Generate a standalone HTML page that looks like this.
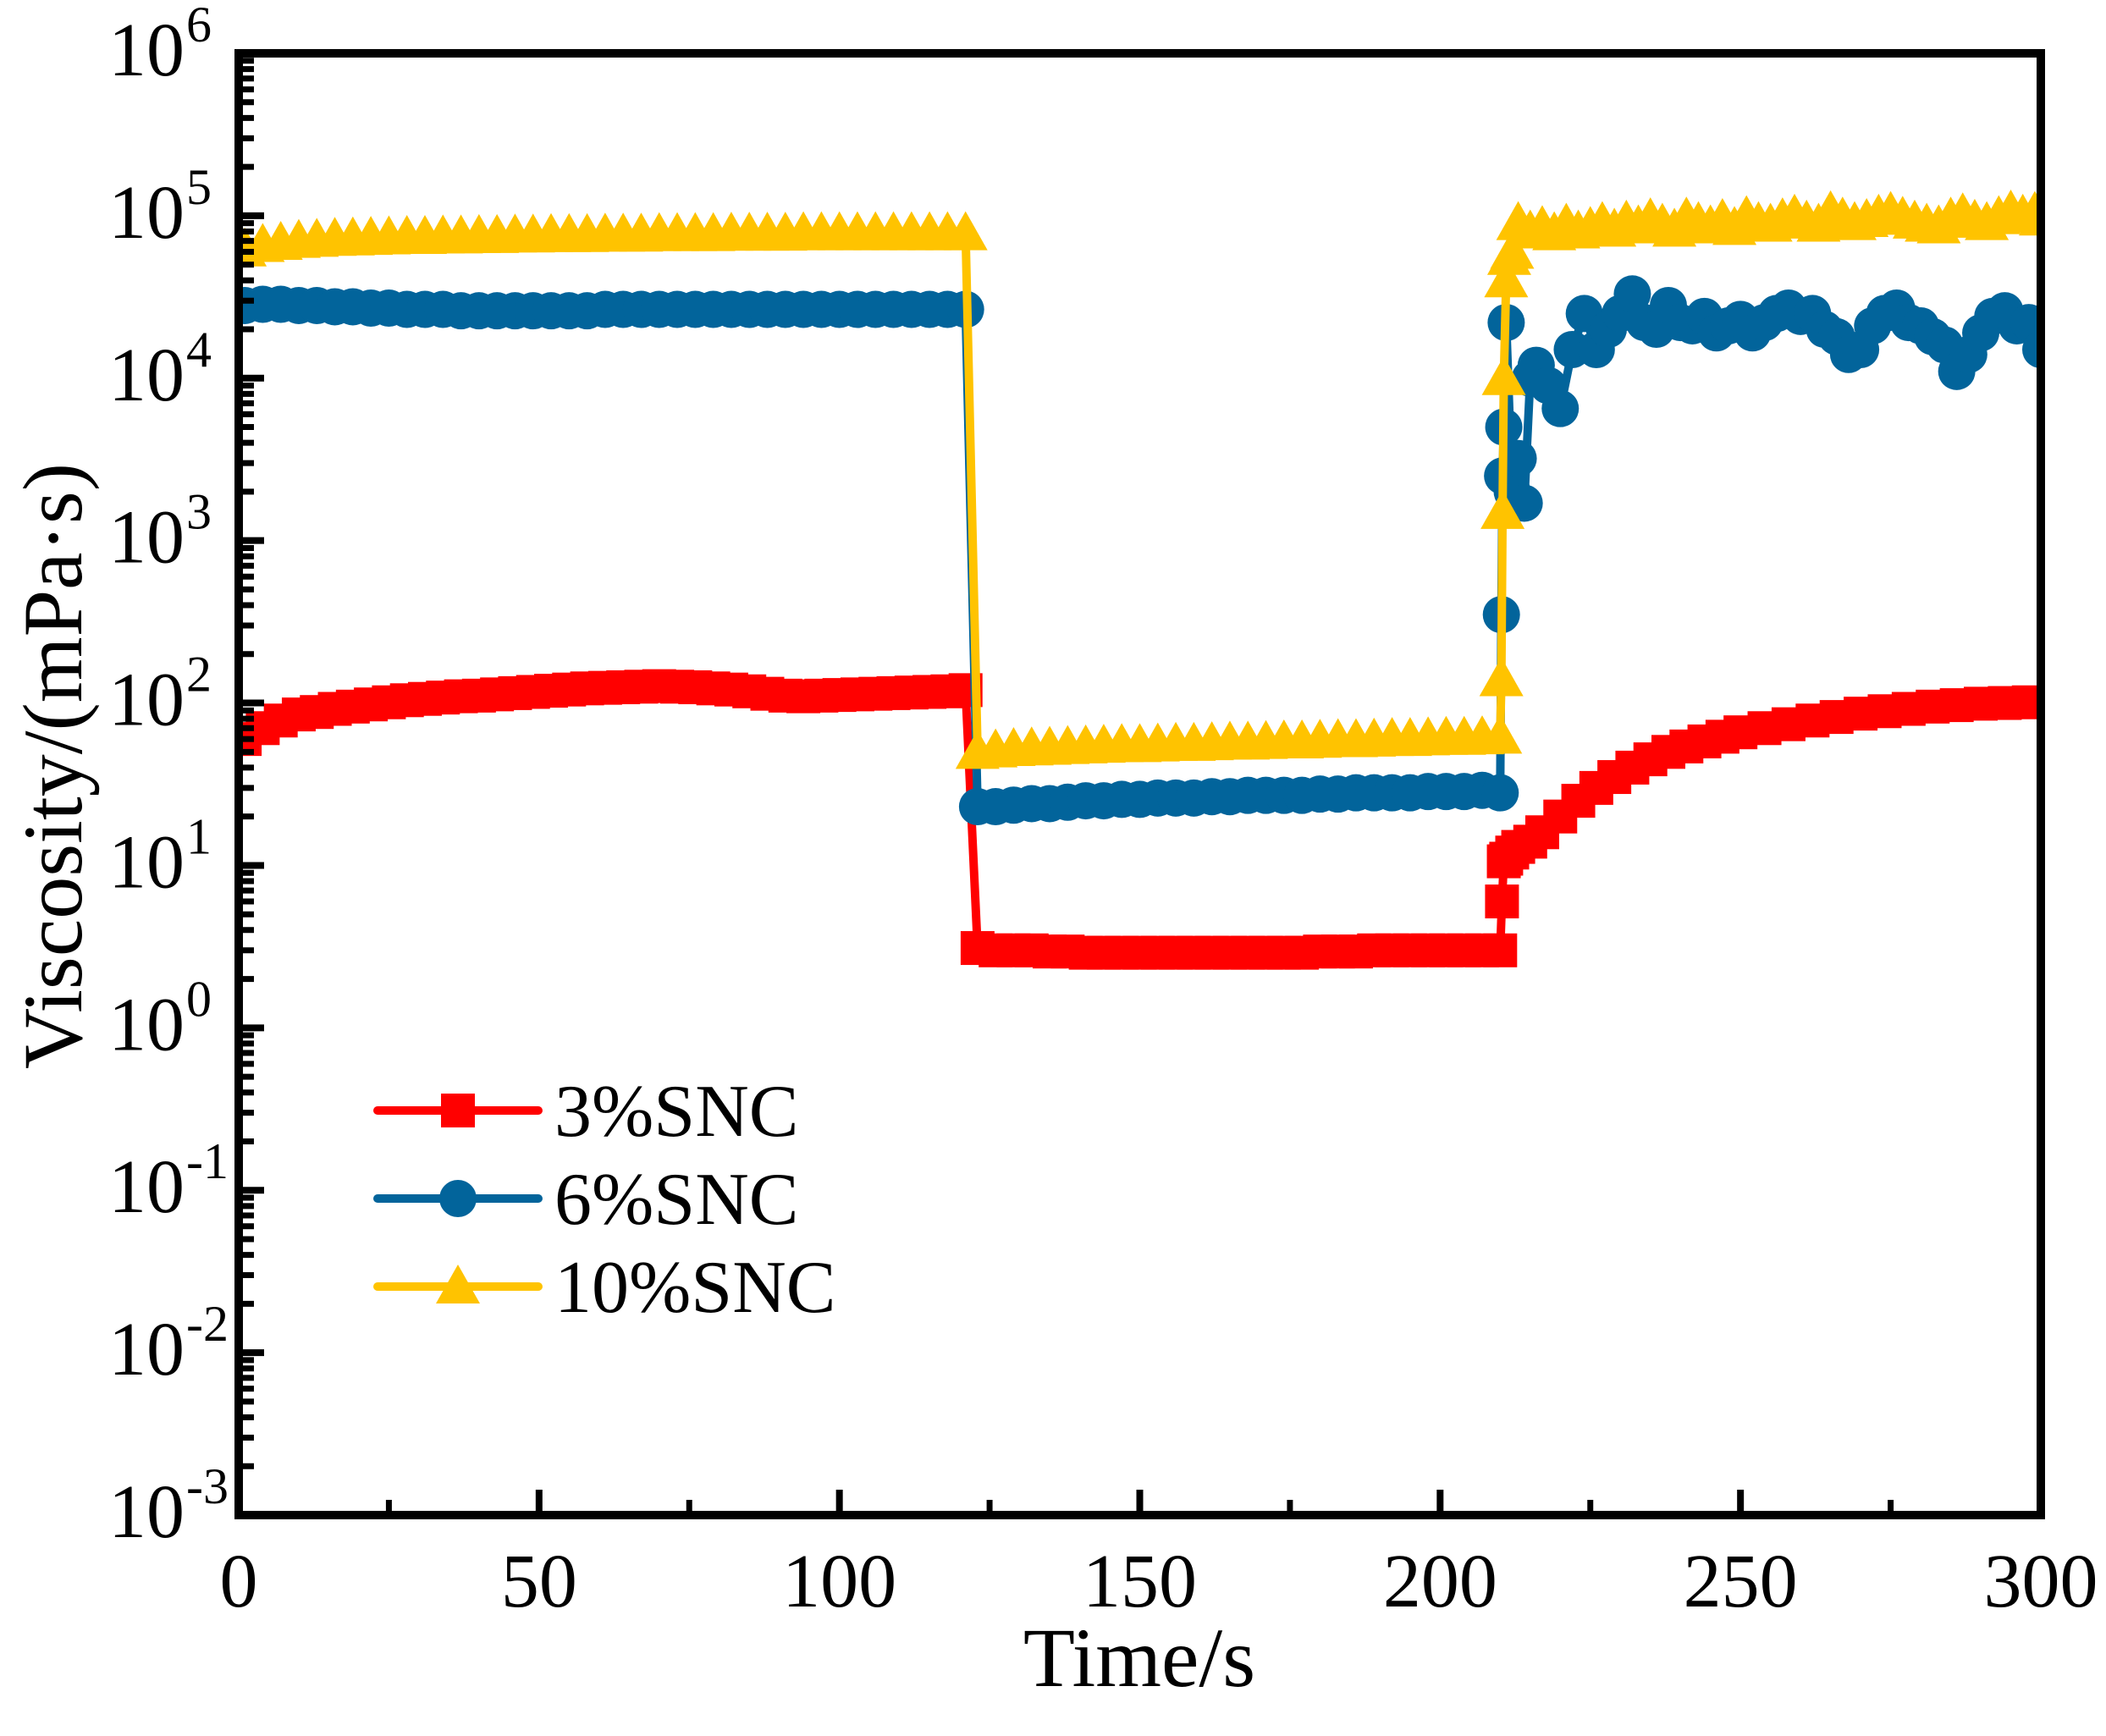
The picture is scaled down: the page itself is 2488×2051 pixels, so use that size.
<!DOCTYPE html>
<html>
<head>
<meta charset="utf-8">
<style>
html,body{margin:0;padding:0;background:#fff;}
svg{display:block;}
text{font-family:"Liberation Serif","DejaVu Serif",serif;fill:#000;}
</style>
</head>
<body>
<svg id="chart" xmlns="http://www.w3.org/2000/svg" width="2488" height="2051" viewBox="0 0 2488 2051">
<rect x="0" y="0" width="2488" height="2051" fill="#fff"/>
<g id="series"></g>
<g id="axes"></g>
<text x="1346" y="1992" font-size="100" text-anchor="middle">Time/s</text>
<text x="0" y="0" font-size="100" text-anchor="middle" transform="translate(96,905) rotate(-90)">Viscosity/(mPa·s)</text>
<g id="legend"></g>
</svg>
<script>
// ---- data ----
const xTicks = [0, 50, 100, 150, 200, 250, 300];
const yExps = [-3, -2, -1, 0, 1, 2, 3, 4, 5, 6];
const seriesNames = ["3%SNC", "6%SNC", "10%SNC"];

const t3 = [1,4,7,10,13,16,19,22,25,28,31,34,37,40,43,46,49,52,55,58,61,64,67,70,73,76,79,82,85,88,91,94,97,100,103,106,109,112,115,118,121,
 123,126,129,132,135,138,141,144,147,150,153,156,159,162,165,168,171,174,177,180,183,186,189,192,195,198,201,204,207,210,
 210.3,210.6,211,212,213,215,217,220,223,226,229,232,235,238,241,244,247,250,254,258,262,266,270,274,278,282,286,290,294,298,300];
const v3 = [60,70,78,85,88,92,95,98,101,104,106,108,110,111,113,115,117,119,121,123,124,125,126,127,126,125,123,121,118,114,111,110,111,112,113,114,115,116,117,118,120,
 3.1,3.0,3.0,3.0,2.95,2.95,2.9,2.9,2.9,2.9,2.9,2.9,2.9,2.9,2.9,2.9,2.9,2.9,2.9,2.95,2.95,2.95,3.0,3.0,3.0,3.0,3.0,3.0,3.0,3.0,
 6,10.6,11,12,13,14,16,20,25,30,35,40,45,50,54,58,62,66,70,74,78,82,86,89,92,95,97,99,100,101];

const t6 = [1,4,7,10,13,16,19,22,25,28,31,34,37,40,43,46,49,52,55,58,61,64,67,70,73,76,79,82,85,88,91,94,97,100,103,106,109,112,115,118,121,
 123,126,129,132,135,138,141,144,147,150,153,156,159,162,165,168,171,174,177,180,183,186,189,192,195,198,201,204,207,210,
 210.2,210.4,210.6,211,212,213,214,215,216,218,220,222,224,226,228,230,232,234,236,238,240,242,244,246,248,250,252,254,256,258,260,262,264,266,268,270,272,274,276,278,280,282,284,286,288,290,292,294,296,298,300];
const v6 = [28000,28500,28500,28000,28000,27500,27500,27000,27000,26500,26500,26500,26000,26000,26000,26000,26000,26000,26000,26000,26500,26500,26500,26500,26500,26500,26500,26500,26500,26500,26500,26500,26500,26500,26500,26500,26500,26500,26500,26500,26500,
 23,23,23.5,24,24,24.5,25,25,25.5,25.5,26,26,26,26.5,26.5,27,27,27,27,27.5,27.5,28,28,28,28,28.5,28.5,28.5,29,28,
 350,2500,5000,22000,2000,3200,1700,10000,12000,9000,6500,15000,25000,15000,20000,25000,33000,22000,20000,28000,22000,21000,24000,19000,21000,23000,19000,22000,25000,27000,24000,25000,20000,18000,14000,15000,21000,25000,27000,22000,21000,18000,16000,11000,14000,19000,24000,26000,21000,22000,15000];

const t10 = [1,4,7,10,13,16,19,22,25,28,31,34,37,40,43,46,49,52,55,58,61,64,67,70,73,76,79,82,85,88,91,94,97,100,103,106,109,112,115,118,121,
 123,126,129,132,135,138,141,144,147,150,153,156,159,162,165,168,171,174,177,180,183,186,189,192,195,198,201,204,207,210,
 210.2,210.4,210.6,211,211.5,212,213,215,217,219,221,223,225,227,229,231,233,235,237,239,241,243,245,247,249,251,253,255,257,259,261,263,265,267,269,271,273,275,277,279,281,283,285,287,289,291,293,295,297,299,300];
const v10 = [62000,66000,68000,70000,71000,72000,72500,73000,73500,74000,74000,74500,74500,75000,75000,75500,75500,76000,76000,76000,76500,76500,76500,77000,77000,77000,77000,77500,77500,77500,77500,78000,78000,78000,78000,78000,78000,78000,78000,78000,78000,
 50,51,52,52.5,53,53.5,54,54.5,55,55,55.5,56,56,56.5,57,57,57.5,58,58,58.5,59,59,59.5,60,60,60.5,61,61,61.5,62,
 140,1500,10000,40000,55000,60000,90000,80000,85000,78000,88000,80000,84000,90000,82000,92000,86000,95000,88000,82000,96000,90000,86000,94000,84000,98000,90000,88000,95000,100000,92000,88000,105000,96000,90000,94000,100000,104000,97000,92000,88000,86000,96000,102000,93000,90000,98000,106000,100000,104000,96000];

// ---- layout ----
const L = 282, R = 2411, T = 63, B = 1790;
const xmin = 0, xmax = 300, lmin = -3, lmax = 6;
function xs(t){ return L + (t - xmin) / (xmax - xmin) * (R - L); }
function ys(v){ return B - (Math.log10(v) - lmin) / (lmax - lmin) * (B - T); }

const NS = "http://www.w3.org/2000/svg";
function mk(tag, attrs, parent){
  const e = document.createElementNS(NS, tag);
  for (const k in attrs) e.setAttribute(k, attrs[k]);
  parent.appendChild(e);
  return e;
}
const axes = document.getElementById('axes');
const seriesG = document.getElementById('series');
const legend = document.getElementById('legend');

const frame = mk('rect', {x:L, y:T, width:R-L, height:B-T, fill:'none', stroke:'#000', 'stroke-width':10}, axes);



for (let i = 0; i < xTicks.length; i++) {
  const x = xs(xTicks[i]);
  const tk = mk('line', {x1:x, y1:B, x2:x, y2:B-30, stroke:'#000', 'stroke-width':8}, axes);
  
  
  const lb = mk('text', {x:x, y:1898, 'font-size':90, 'text-anchor':'middle'}, axes);
  lb.textContent = String(xTicks[i]);
  
  
  if (i < xTicks.length - 1) {
    const xm = xs((xTicks[i] + xTicks[i+1]) / 2);
    const mt = mk('line', {x1:xm, y1:B, x2:xm, y2:B-18, stroke:'#000', 'stroke-width':7}, axes);
    
    
  }
}

for (let i = 0; i < yExps.length; i++) {
  const e = yExps[i];
  const y = ys(Math.pow(10, e));
  const tk = mk('line', {x1:L, y1:y, x2:L+30, y2:y, stroke:'#000', 'stroke-width':8}, axes);
  
  
  const lb = mk('text', {x:218, y:y+26, 'font-size':90, 'text-anchor':'end'}, axes);
  lb.textContent = '10';
  
  
  const sup = mk('text', {x:220, y:y-14, 'font-size':60, 'text-anchor':'start'}, axes);
  sup.textContent = String(e);
  
  
  if (e < lmax) {
    for (let m = 2; m <= 9; m++) {
      const ym = ys(m * Math.pow(10, e));
      const mt = mk('line', {x1:L, y1:ym, x2:L+18, y2:ym, stroke:'#000', 'stroke-width':7}, axes);
      
      
    }
  }
}

function marker(kind, cx, cy, color, parent){
  let el;
  if (kind === 'square') {
    el = mk('rect', {x:cx-20, y:cy-20, width:40, height:40, fill:color}, parent);
  } else if (kind === 'circle') {
    el = mk('circle', {cx:cx, cy:cy, r:22, fill:color}, parent);
  } else {
    el = mk('polygon', {points:(cx)+','+(cy-26)+' '+(cx-26)+','+(cy+20)+' '+(cx+26)+','+(cy+20), fill:color}, parent);
  }
  return el;
}

const specs = [
  {t:t3, v:v3, color:'#FF0000', kind:'square', name:'series-3pct-snc'},
  {t:t6, v:v6, color:'#02649B', kind:'circle', name:'series-6pct-snc'},
  {t:t10, v:v10, color:'#FFC300', kind:'triangle', name:'series-10pct-snc'}
];

const clip = mk('clipPath', {id:'plotclip'}, seriesG);
mk('rect', {x:L, y:T, width:R-L, height:B-T}, clip);

specs.forEach(function(s, si){
  const g = mk('g', {'clip-path':'url(#plotclip)'}, seriesG);
  
  
  let d = '';
  for (let i = 0; i < s.t.length; i++) d += (i ? 'L' : 'M') + xs(s.t[i]).toFixed(1) + ',' + ys(s.v[i]).toFixed(1);
  const ln = mk('path', {d:d, fill:'none', stroke:s.color, 'stroke-width':10, 'stroke-linejoin':'round'}, g);
  
  
  for (let i = 0; i < s.t.length; i++) {
    const m = marker(s.kind, xs(s.t[i]), ys(s.v[i]), s.color, g);
    
    
  }
  const ly = 1312 + si * 104;
  const lg = mk('g', {}, legend);
  
  
  mk('line', {x1:446, y1:ly, x2:636, y2:ly, stroke:s.color, 'stroke-width':10, 'stroke-linecap':'round'}, lg);
  marker(s.kind, 541, ly, s.color, lg);
  const tx = mk('text', {x:655, y:ly+30, 'font-size':88}, lg);
  tx.textContent = seriesNames[si];
  
  
});
</script>
</body>
</html>
